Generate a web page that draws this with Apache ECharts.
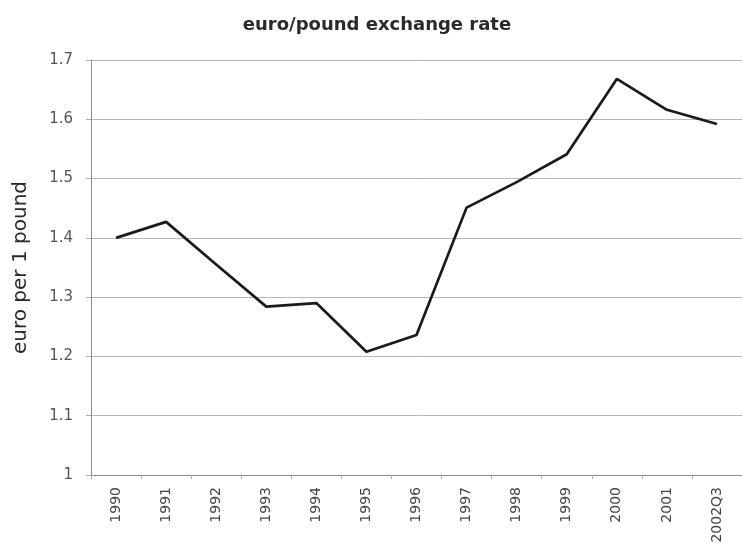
<!DOCTYPE html>
<html>
<head>
<meta charset="utf-8">
<script src="https://cdn.jsdelivr.net/npm/echarts@6/dist/echarts.min.js"></script>
<style>
  html, body { margin: 0; padding: 0; background: #fff; }
  #chart { width: 742px; height: 548px; }
</style>
</head>
<body>
<div id="chart"></div>
<script>
// Euro per pound, annual averages plus the latest quarter
const periods = ['1990', '1991', '1992', '1993', '1994', '1995', '1996',
                 '1997', '1998', '1999', '2000', '2001', '2002Q3'];
const euroPerPound = [1.400, 1.427, 1.355, 1.284, 1.290, 1.208, 1.236,
                      1.451, 1.494, 1.541, 1.668, 1.616, 1.592];
const yTicks = { min: 1, max: 1.7, step: 0.1 };

const chart = echarts.init(document.getElementById('chart'), null, { renderer: 'canvas' });
const fontFamily = '"DejaVu Sans", "Liberation Sans", Arial, sans-serif';

chart.setOption({
  animation: false,
  backgroundColor: '#ffffff',
  title: {
    text: 'euro/pound exchange rate',
    left: 372,
    top: 11,
    textAlign: 'center',
    textStyle: { fontFamily, fontSize: 18, fontWeight: 'bold', color: '#2a2a2a' }
  },
  grid: { left: 91, top: 60, width: 659, height: 415, containLabel: false },
  xAxis: {
    type: 'category',
    data: periods,
    boundaryGap: true,
    axisLine: { lineStyle: { color: '#8c8c8c', width: 1 } },
    axisTick: { show: true, alignWithLabel: false, length: 4, lineStyle: { color: '#aaa' } },
    axisLabel: {
      rotate: 90,
      margin: 12,
      fontFamily,
      fontSize: 14,
      color: '#444'
    }
  },
  yAxis: {
    type: 'value',
    min: yTicks.min,
    max: yTicks.max,
    interval: yTicks.step,
    name: 'euro per 1 pound',
    nameLocation: 'middle',
    nameGap: 60,
    nameRotate: 90,
    nameTextStyle: { fontFamily, fontSize: 20, color: '#2a2a2a' },
    axisLine: { show: true, lineStyle: { color: '#8c8c8c', width: 1 } },
    axisTick: { show: true, length: 5, lineStyle: { color: '#aaa' } },
    axisLabel: {
      margin: 18,
      fontFamily,
      fontSize: 15,
      color: '#555',
      formatter: v => (Math.abs(v - 1) < 1e-9 ? '1' : v.toFixed(1))
    },
    splitLine: { show: true, lineStyle: { color: '#b8b8b8', width: 1 } }
  },
  series: [{
    type: 'line',
    data: euroPerPound,
    symbol: 'none',
    lineStyle: { color: '#1a1a1a', width: 2.7 },
    clip: false
  }]
});
</script>
</body>
</html>
